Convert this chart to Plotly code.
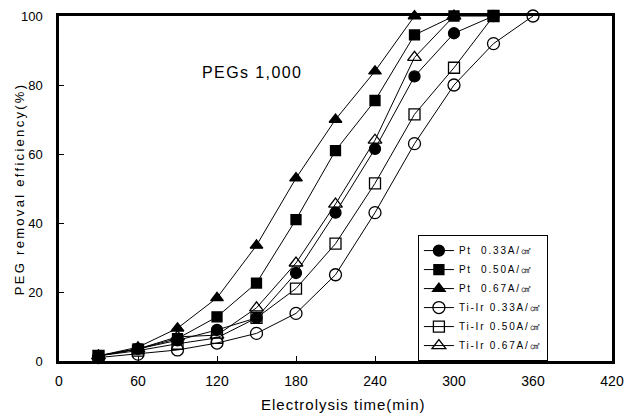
import plotly.graph_objects as go

# Electrolysis time (min) and PEG removal efficiency (%) per electrode / current density
time_pt033 = [30, 60, 90, 120, 150, 180, 210, 240, 270, 300, 330]
eff_pt033 = [1.5, 3.5, 6.0, 9.0, 12.5, 25.5, 43.0, 61.5, 82.5, 95.0, 100.0]

time_pt050 = [30, 60, 90, 120, 150, 180, 210, 240, 270, 300, 330]
eff_pt050 = [1.5, 3.5, 6.5, 12.8, 22.6, 41.0, 61.0, 75.5, 94.5, 100.0, 100.0]

time_pt067 = [30, 60, 90, 120, 150, 180, 210, 240, 270]
eff_pt067 = [1.5, 4.0, 9.5, 18.3, 33.5, 53.0, 70.0, 84.0, 100.0]

time_ti033 = [30, 60, 90, 120, 150, 180, 210, 240, 270, 300, 330, 360]
eff_ti033 = [1.0, 2.0, 3.2, 5.2, 8.0, 13.8, 25.0, 43.0, 63.0, 80.0, 92.0, 100.0]

time_ti050 = [30, 60, 90, 120, 150, 180, 210, 240, 270, 300, 330]
eff_ti050 = [1.5, 3.0, 5.0, 6.7, 12.5, 21.0, 34.0, 51.5, 71.5, 85.0, 100.0]

time_ti067 = [30, 60, 90, 120, 150, 180, 210, 240, 270, 300]
eff_ti067 = [1.5, 3.5, 7.0, 7.5, 15.4, 28.4, 45.5, 64.0, 88.0, 100.0]

series_names = [
    "Pt\u00a0\u00a00.33A/㎠",
    "Pt\u00a0\u00a00.50A/㎠",
    "Pt\u00a0\u00a00.67A/㎠",
    "Ti-Ir 0.33A/㎠",
    "Ti-Ir 0.50A/㎠",
    "Ti-Ir 0.67A/㎠",
]

x_ticks = [0, 60, 120, 180, 240, 300, 360, 420]
y_ticks = [0, 20, 40, 60, 80, 100]

series = [
    (series_names[0], time_pt033, eff_pt033, "circle", 11),
    (series_names[1], time_pt050, eff_pt050, "square", 10),
    (series_names[2], time_pt067, eff_pt067, "triangle-up", 11),
    (series_names[3], time_ti033, eff_ti033, "circle-open", 12),
    (series_names[4], time_ti050, eff_ti050, "square-open", 11),
    (series_names[5], time_ti067, eff_ti067, "triangle-up-open", 12),
]

font_family = "Liberation Sans, Arial, sans-serif"


def spaced(text, px):
    return f'<span style="letter-spacing:{px}px">{text}</span>'


fig = go.Figure()
for name, xs, ys, sym, size in series:
    fig.add_trace(go.Scatter(
        x=xs, y=ys, name=spaced(name, 1.8), mode="lines+markers",
        line=dict(color="black", width=1),
        marker=dict(symbol=sym, size=size, color="black",
                    line=dict(color="black", width=1.3)),
        cliponaxis=False,
    ))

fig.add_annotation(
    x=107, y=83.5, xref="x", yref="y", text=spaced("PEGs 1,000", 1.4),
    showarrow=False, xanchor="left", yanchor="middle",
    font=dict(family=font_family, size=16, color="black"),
)

# axis titles
fig.add_annotation(
    x=-0.071, y=0.5, xref="paper", yref="paper",
    text=spaced("PEG removal efficiency(%)", 2.3), textangle=-90,
    showarrow=False, xanchor="center", yanchor="middle",
    font=dict(family=font_family, size=13, color="black"),
)
fig.add_annotation(
    x=0.514, y=-0.125, xref="paper", yref="paper",
    text=spaced("Electrolysis time(min)", 1.0),
    showarrow=False, xanchor="center", yanchor="middle",
    font=dict(family=font_family, size=15, color="black"),
)

fig.update_layout(
    width=629, height=416,
    margin=dict(l=59, r=17, t=16, b=55),
    paper_bgcolor="white", plot_bgcolor="white",
    font=dict(family=font_family, size=13, color="black"),
    showlegend=True,
    legend=dict(
        x=0.649, y=0.365, xanchor="left", yanchor="top",
        bordercolor="black", borderwidth=1, bgcolor="white",
        font=dict(family=font_family, size=10, color="black"),
        itemwidth=30, tracegroupgap=0,
    ),
    xaxis=dict(
        range=[0, 420], tickvals=x_ticks, ticks="inside", ticklen=5,
        tickcolor="black", showgrid=False, zeroline=False,
        showline=True, linecolor="black", linewidth=2.5, mirror=True,
        tickfont=dict(size=14), ticklabelstandoff=5, automargin=False,
    ),
    yaxis=dict(
        range=[0, 100], tickvals=y_ticks, ticks="inside", ticklen=5,
        tickcolor="black", showgrid=False, zeroline=False,
        showline=True, linecolor="black", linewidth=2.5, mirror=True,
        tickfont=dict(size=13), ticklabelstandoff=11, automargin=False,
    ),
)

fig.write_html("out.html")
